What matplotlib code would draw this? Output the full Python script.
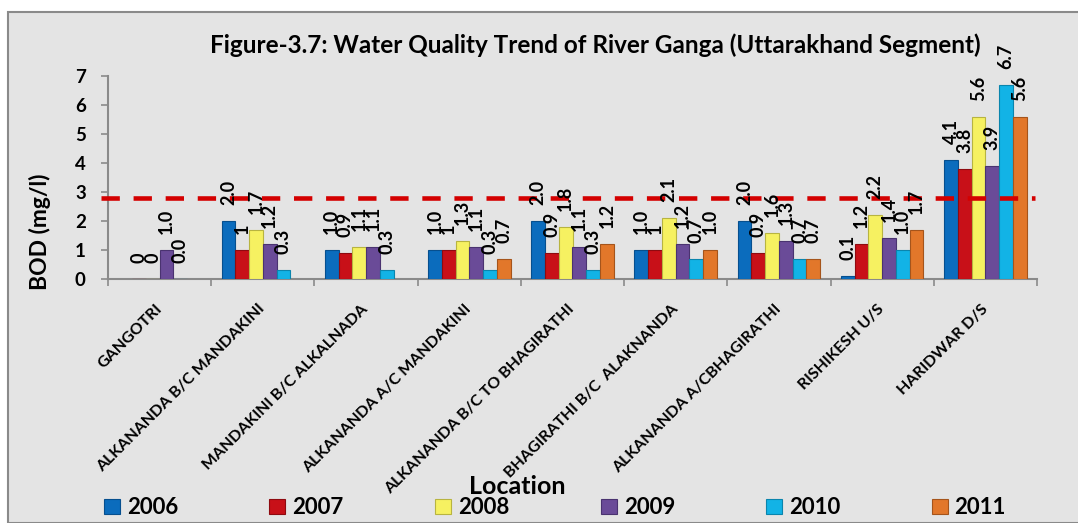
import numpy as np
import matplotlib
matplotlib.use("Agg")
import matplotlib.pyplot as plt
from matplotlib.patches import Rectangle

plt.rcParams['font.family'] = ['Lato', 'DejaVu Sans']
plt.rcParams['font.weight'] = 'bold'

locations = ["GANGOTRI", "ALKANANDA B/C MANDAKINI", "MANDAKINI B/C ALKALNADA",
             "ALKANANDA A/C MANDAKINI", "ALKANANDA B/C TO BHAGIRATHI",
             "BHAGIRATHI B/C  ALAKNANDA", "ALKANANDA A/CBHAGIRATHI",
             "RISHIKESH U/S", "HARIDWAR D/S"]
years = ["2006", "2007", "2008", "2009", "2010", "2011"]
nan = np.nan
bod_2006 = [nan, 2.0, 1.0, 1.0, 2.0, 1.0, 2.0, 0.1, 4.1]
bod_2007 = [0.0, 1.0, 0.9, 1.0, 0.9, 1.0, 0.9, 1.2, 3.8]
bod_2008 = [0.0, 1.7, 1.1, 1.3, 1.8, 2.1, 1.6, 2.2, 5.6]
bod_2009 = [1.0, 1.2, 1.1, 1.1, 1.1, 1.2, 1.3, 1.4, 3.9]
bod_2010 = [0.0, 0.3, 0.3, 0.3, 0.3, 0.7, 0.7, 1.0, 6.7]
bod_2011 = [nan, nan, nan, 0.7, 1.2, 1.0, 0.7, 1.7, 5.6]
lab_2006 = ["", "2.0", "1.0", "1.0", "2.0", "1.0", "2.0", "0.1", "4.1"]
lab_2007 = ["0", "1", "0.9", "1", "0.9", "1", "0.9", "1.2", "3.8"]
lab_2008 = ["0", "1.7", "1.1", "1.3", "1.8", "2.1", "1.6", "2.2", "5.6"]
lab_2009 = ["1.0", "1.2", "1.1", "1.1", "1.1", "1.2", "1.3", "1.4", "3.9"]
lab_2010 = ["0.0", "0.3", "0.3", "0.3", "0.3", "0.7", "0.7", "1.0", "6.7"]
lab_2011 = ["", "", "", "0.7", "1.2", "1.0", "0.7", "1.7", "5.6"]
limit_bod = 2.8

series = [bod_2006, bod_2007, bod_2008, bod_2009, bod_2010, bod_2011]
labels = [lab_2006, lab_2007, lab_2008, lab_2009, lab_2010, lab_2011]
colors = ['#0b6cbd', '#c81018', '#f6f161', '#6a4b98', '#12b3e6', '#e2772a']
edges = ['#064f8e', '#8e0a10', '#b8b440', '#4a3370', '#0a85ad', '#a5541b']

W, H = 1078, 523
fig = plt.figure(figsize=(W / 100, H / 100), dpi=100)
fig.patch.set_facecolor('white')
fig.patches.append(Rectangle((8 / W, 0), 1.0, 1 - 12 / H, transform=fig.transFigure,
                             facecolor='#e4e4e4', edgecolor='#8a8a8a', linewidth=1.5,
                             zorder=-10))

ax = fig.add_axes([108 / W, 1 - 279 / H, (1037 - 108) / W, (279 - 76) / H])
ax.patch.set_alpha(0)

x = np.arange(len(locations))
bw = 0.8 / 6
for i, (vals, labs) in enumerate(zip(series, labels)):
    pos = x - 0.4 + bw * (i + 0.5)
    ax.bar(pos, vals, width=bw, color=colors[i], edgecolor=edges[i],
           linewidth=0.8, label=years[i], zorder=3)
    for px, v, t in zip(pos, vals, labs):
        if t == "" or np.isnan(v):
            continue
        ax.annotate(t, (px, v), xytext=(0, 11.5), textcoords='offset points',
                    rotation=90, ha='center', va='bottom', fontsize=13,
                    fontweight='bold', zorder=5)

ax.axhline(limit_bod, xmin=-0.007, xmax=0.998, color='#d40000', linewidth=3.3,
           dashes=(4, 3), clip_on=False, zorder=4)

ax.set_xlim(-0.5, len(locations) - 0.5)
ax.set_ylim(0, 7)
ax.set_yticks(range(0, 8))
ax.tick_params(axis='y', labelsize=13.5, length=5, width=1.2, color='#8a8a8a', pad=11)
for lbl in ax.get_yticklabels():
    lbl.set_fontweight('bold')
ax.set_xticks(x)
ax.set_xticklabels(locations, rotation=45, ha='right', va='center',
                   rotation_mode='anchor', fontsize=11.5, fontweight='bold')
ax.tick_params(axis='x', which='major', length=0, pad=20)
ax.set_xticks(np.arange(-0.5, len(locations), 1.0), minor=True)
ax.tick_params(axis='x', which='minor', length=5, width=1.2, color='#8a8a8a')
for s in ['top', 'right']:
    ax.spines[s].set_visible(False)
for s in ['left', 'bottom']:
    ax.spines[s].set_color('#8a8a8a')
    ax.spines[s].set_linewidth(1.5)

fig.text(40 / W, 1 - 232 / H, "BOD (mg/l)", rotation=90, ha='center', va='center',
         fontsize=16.5, fontweight='bold')
fig.text(517 / W, 1 - 487 / H, "Location", ha='center', va='center',
         fontsize=18, fontweight='bold')
fig.text(595 / W, 1 - 45 / H,
         "Figure-3.7: Water Quality Trend of River Ganga (Uttarakhand Segment)",
         ha='center', va='center', fontsize=17.5, fontweight='bold')

handles, hl = ax.get_legend_handles_labels()
leg = fig.legend(handles, hl, loc='center', bbox_to_anchor=(555 / W, 1 - 508 / H),
                 ncol=6, frameon=False, fontsize=16, handlelength=0.72,
                 handleheight=0.68, handletextpad=0.32, columnspacing=4.1,
                 borderpad=0, borderaxespad=0)
for t in leg.get_texts():
    t.set_fontweight('bold')

fig.savefig("out.png", dpi=100, facecolor=fig.get_facecolor())
